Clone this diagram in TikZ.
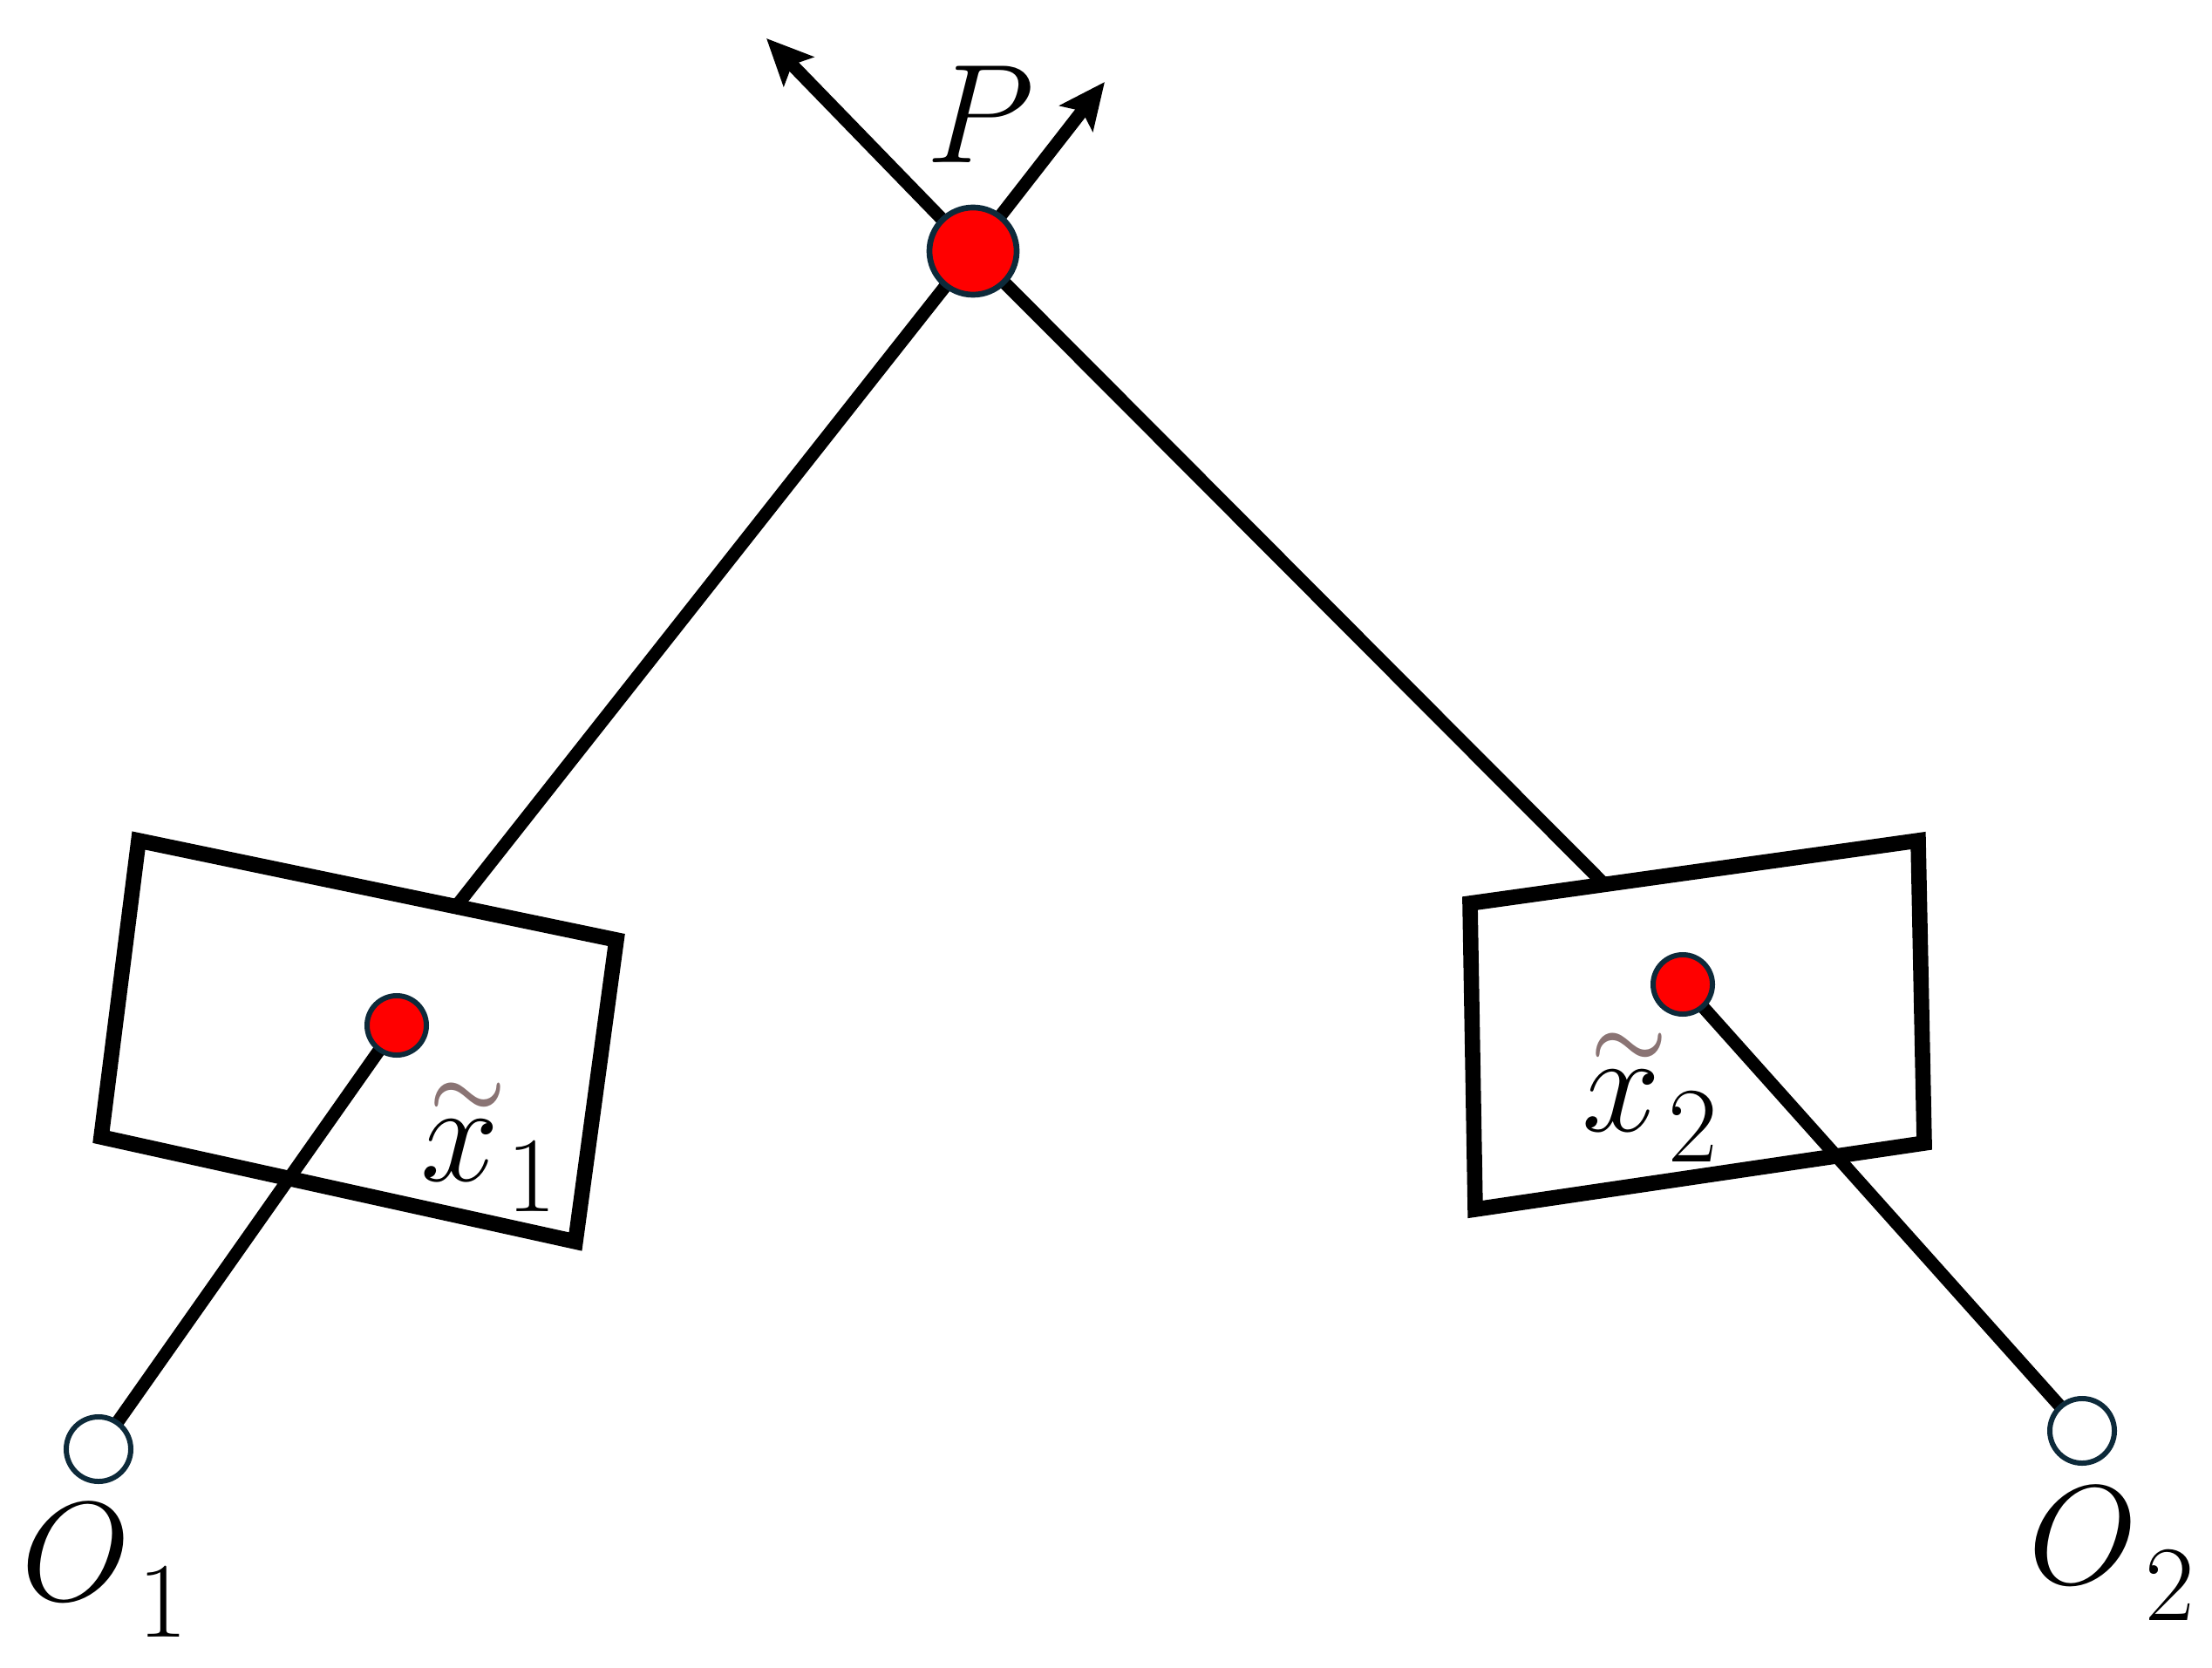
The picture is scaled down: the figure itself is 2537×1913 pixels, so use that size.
\RequirePackage{fix-cm}
\documentclass[tikz,border=0pt]{standalone}
\usepackage{amsmath}
\usepackage{xcolor}
\usetikzlibrary{arrows.meta}
\definecolor{rim}{HTML}{0D2A3A}
\definecolor{tildecol}{HTML}{8A7474}
\newcommand{\subidx}[2]{\kern2.5pt\raisebox{-#1}{\fontsize{35}{36}\selectfont #2}}
\newcommand{\tx}[1]{\makebox[0pt][l]{\kern3pt\raisebox{21pt}{\fontsize{28}{28}\selectfont\textcolor{tildecol}{$\boldsymbol{\sim}$}}}$x$\subidx{10pt}{#1}}
\newcommand{\Oi}[1]{$O$\subidx{12pt}{#1}}
\tikzset{
  ray/.style={line width=4.2pt, black},
  arr/.style={ray, -{Stealth[length=15pt,width=13.5pt,inset=3pt]}},
  plane/.style={line width=5pt, black, line join=miter},
  bigdot/.style={circle, fill=red, draw=rim, line width=1.9pt, minimum size=1.0cm, inner sep=0pt},
  imgdot/.style={circle, fill=red, draw=rim, line width=1.7pt, minimum size=0.68cm, inner sep=0pt},
  centre/.style={circle, fill=white, draw=rim, line width=1.7pt, minimum size=0.74cm, inner sep=0pt},
  lab/.style={font=\fontsize{46}{50}\selectfont, inner sep=0pt}
}
\begin{document}
\begin{tikzpicture}[x=0.01cm, y=-0.01cm]
\useasboundingbox (0,0) rectangle (2537,1913);
% key points
\coordinate (Pc) at (1116,288);
\coordinate (tipL) at (879,44);
\coordinate (tipR) at (1267,94);
\coordinate (e1) at (526,1036);
\coordinate (e2) at (1840,1014);
\coordinate (x1c) at (455,1176);
\coordinate (x2c) at (1930,1129);
\coordinate (o1c) at (113,1662);
\coordinate (o2c) at (2388,1641);
% image planes
\draw[plane] (159,964) coordinate (a1) -- (707,1078) coordinate (b1) -- (660,1424) coordinate (c1) -- (116,1304) coordinate (d1) -- cycle;
\draw[plane] (1686,1036) coordinate (a2) -- (2200,964) coordinate (b2) -- (2207,1311) coordinate (c2) -- (1692,1387) coordinate (d2) -- cycle;
% rays
\draw[ray] (Pc) -- (e1);
\draw[ray] (Pc) -- (e2);
\draw[arr] (Pc) -- (tipL);
\draw[arr] (Pc) -- (tipR);
\draw[ray] (x1c) -- (o1c);
\draw[ray] (x2c) -- (o2c);
% points
\node[bigdot] (P) at (Pc) {};
\node[imgdot] (x1) at (x1c) {};
\node[imgdot] (x2) at (x2c) {};
\node[centre] (O1) at (o1c) {};
\node[centre] (O2) at (o2c) {};
% labels
\node[lab] (Plab) at (1125,131) {$P$};
\node[lab] (x1lab) at (560,1316) {\tx{1}};
\node[lab] (x2lab) at (1892,1259) {\tx{2}};
\node[lab] (O1lab) at (120,1801) {\Oi{1}};
\node[lab] (O2lab) at (2422,1782) {\Oi{2}};
\end{tikzpicture}
\end{document}
